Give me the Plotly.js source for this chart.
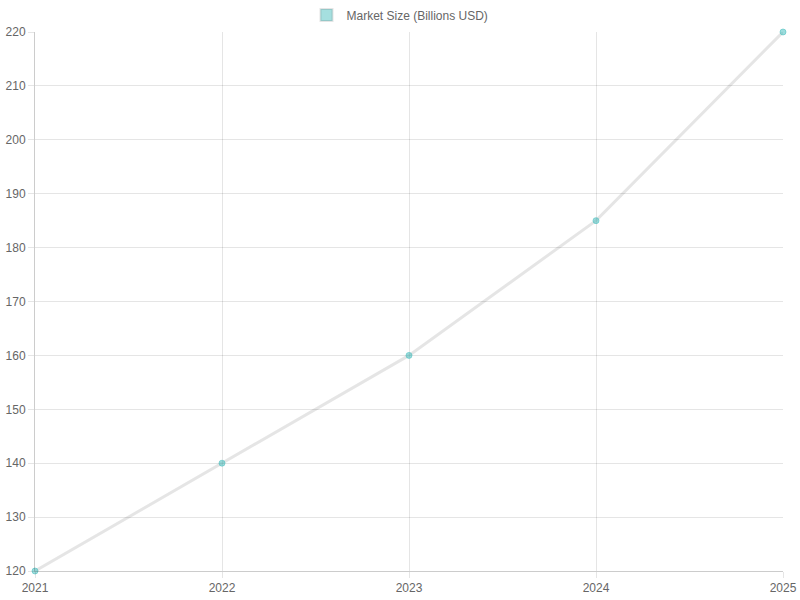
<!DOCTYPE html>
<html>
<head>
<meta charset="utf-8">
<script src="https://cdn.plot.ly/plotly-3.0.1.min.js"></script>
<style>
  html, body { margin: 0; padding: 0; background: #fff; }
  #chart { width: 800px; height: 600px; }
</style>
</head>
<body>
<div id="chart"></div>
<script>
// market size by year
const years = [2021, 2022, 2023, 2024, 2025];
const marketSize = [120, 140, 160, 185, 220];
const seriesName = 'Market Size (Billions USD)';

const lineTrace = {
    x: years,
    y: marketSize,
    type: 'scatter',
    mode: 'lines+markers',
    line: { color: 'rgba(0,0,0,0.1)', width: 3 },
    marker: { color: 'rgba(75,192,192,0.55)', size: 6, line: { color: 'rgba(75,192,192,0.55)', width: 1 } },
    cliponaxis: false,
    showlegend: false,
    hoverinfo: 'x+y'
};

// legend-only entry so the key shows a filled box like the original
const legendTrace = {
    x: [null],
    y: [null],
    type: 'bar',
    name: seriesName,
    marker: { color: 'rgba(75,192,192,0.5)', line: { color: 'rgba(0,0,0,0.1)', width: 2 } },
    hoverinfo: 'skip'
};

const gridColor = 'rgba(0,0,0,0.1)';

const layout = {
    width: 800,
    height: 600,
    margin: { l: 35, r: 17, t: 32, b: 29 },
    paper_bgcolor: 'white',
    plot_bgcolor: 'white',
    font: { family: 'Liberation Sans, Arial, sans-serif', size: 12, color: '#666' },
    showlegend: true,
    legend: {
        orientation: 'h',
        x: 0.5, xanchor: 'center',
        xref: 'container',
        y: 0.975, yanchor: 'middle',
        yref: 'container',
        font: { size: 12, color: '#666' },
        itemclick: false
    },
    xaxis: {
        range: [2021, 2025],
        tickvals: years,
        ticktext: years.map(String),
        showgrid: true,
        gridcolor: gridColor,
        zeroline: false,
        showline: true,
        linecolor: 'rgba(0,0,0,0.2)',
        ticks: 'outside',
        ticklen: 6,
        tickcolor: gridColor,
        fixedrange: true
    },
    yaxis: {
        range: [120, 220],
        dtick: 10,
        tick0: 120,
        showgrid: true,
        gridcolor: gridColor,
        zeroline: false,
        showline: true,
        linecolor: 'rgba(0,0,0,0.2)',
        ticks: 'outside',
        ticklen: 6,
        tickcolor: gridColor,
        fixedrange: true
    }
};

Plotly.newPlot('chart', [lineTrace, legendTrace], layout, { displayModeBar: false, staticPlot: true });
</script>
</body>
</html>
